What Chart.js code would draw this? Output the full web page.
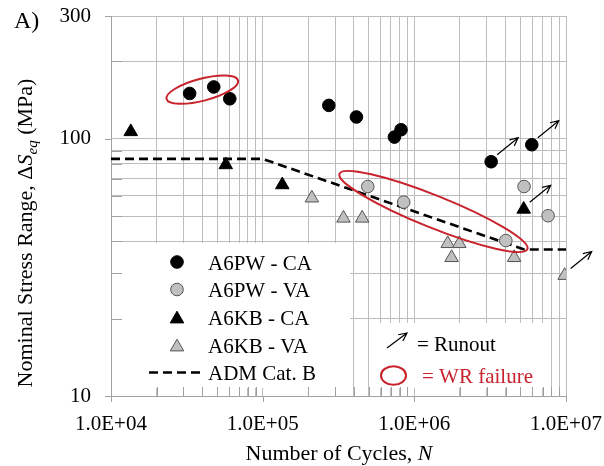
<!DOCTYPE html>
<html>
<head>
<meta charset="utf-8">
<script src="https://cdn.jsdelivr.net/npm/chart.js@4.4.1/dist/chart.umd.min.js"></script>
<style>
    html, body { margin: 0; padding: 0; background: #fff; }
    #wrap { width: 604px; height: 466px; }
</style>
</head>
<body>
<div id="wrap"><canvas id="snChart" width="604" height="466"></canvas></div>
<script>
// Number of cycles N and stress range (MPa)
const pwCaN = [33000, 47600, 60700, 273000, 415000, 739000, 817000, 3210000, 5950000];
const pwCaS = [150, 159, 143, 134.8, 121.5, 101.5, 108.4, 81.4, 94.8];

const pwVaN = [493000, 851000, 4010000, 5290000, 7620000];
const pwVaS = [65.2, 56.7, 40.2, 65.2, 50.2];

const kbCaN = [13500, 57100, 134700, 5260000];
const kbCaS = [106.5, 79.2, 66.2, 53.2];

const kbVaN = [211000, 341000, 453000, 1660000, 1980000, 1760000, 4550000, 9800000];
const kbVaS = [58.8, 49.1, 49.1, 39.1, 39.1, 34.5, 34.5, 29.4];

// ADM Cat. B design curve
const admN = [10000, 100000, 5300000, 10000000];
const admS = [83.5, 83.5, 37.1, 37.1];

// runout specimens (arrows)
const runoutN = [3210000, 5950000, 5260000, 9800000];
const runoutS = [81.4, 94.8, 53.2, 29.4];

// weld root failures (ellipse tips)
const wrTipA = [[23250, 142.7], [321000, 73.1]];
const wrTipB = [[68800, 168.6], [5565000, 37.2]];
const wrHalfWidth = [11, 16];

// axis ticks
const xMajor = [1e4, 1e5, 1e6, 1e7];
const xMajorLabels = ["1.0E+04", "1.0E+05", "1.0E+06", "1.0E+07"];
const yMajor = [10, 100, 300];
const yMajorLabels = ["10", "100", "300"];
const yGrid = [10, 20, 30, 40, 50, 60, 70, 80, 90, 100, 200, 300];

const seriesLabels = ["A6PW - CA", "A6PW - VA", "A6KB - CA", "A6KB - VA", "ADM Cat. B"];

const FONT = "'Liberation Serif', 'Times New Roman', serif";
const RED = "#c8232c";
const GRID = "#bdbdbd";
const AXIS = "#a0a0a0";
const GRAYFILL = "#c0c0c0";
const GRAYLINE = "#555555";

let xGrid = [];
xMajor.forEach((d, i) => {
    if (i === xMajor.length - 1) { xGrid.push(d); return; }
    for (let k = 1; k <= 9; k++) xGrid.push(d * k);
});

function toPoints(ns, ss) {
    return ns.map((n, i) => ({ x: n, y: ss[i] }));
}

function drawTriangle(ctx, x, y, r) {
    ctx.beginPath();
    for (let i = 0; i < 3; i++) {
        let a = i * 2 * Math.PI / 3;
        let px = x + Math.sin(a) * r, py = y - Math.cos(a) * r;
        if (i === 0) ctx.moveTo(px, py); else ctx.lineTo(px, py);
    }
    ctx.closePath();
}

function drawArrow(ctx, x1, y1, x2, y2) {
    let ang = Math.atan2(y2 - y1, x2 - x1);
    let h = 9;
    ctx.beginPath();
    ctx.moveTo(x1, y1);
    ctx.lineTo(x2, y2);
    ctx.moveTo(x2 - h * Math.cos(ang - 0.45), y2 - h * Math.sin(ang - 0.45));
    ctx.lineTo(x2, y2);
    ctx.lineTo(x2 - h * Math.cos(ang + 0.45), y2 - h * Math.sin(ang + 0.45));
    ctx.stroke();
}

// white legend boxes, inner ticks and legend contents
const legendPlugin = {
    id: "legendBoxes",
    beforeDatasetsDraw(chart) {
        const ctx = chart.ctx;
        const xs = chart.scales.x, ys = chart.scales.y;
        const area = chart.chartArea;
        ctx.save();
        ctx.fillStyle = "#fff";
        ctx.fillRect(112, 243, 238, 145);
        ctx.fillRect(370, 323, 177, 65);

        // tick marks
        ctx.strokeStyle = AXIS;
        ctx.lineWidth = 1;
        ctx.beginPath();
        xGrid.forEach((v) => {
            let x = Math.round(xs.getPixelForValue(v)) + 0.5;
            if (xMajor.indexOf(v) >= 0) {
                ctx.moveTo(x, area.bottom); ctx.lineTo(x, area.bottom + 6);
            } else {
                ctx.moveTo(x, area.bottom); ctx.lineTo(x, area.bottom - 9);
            }
        });
        yGrid.forEach((v) => {
            let y = Math.round(ys.getPixelForValue(v)) + 0.5;
            if (yMajor.indexOf(v) >= 0) {
                ctx.moveTo(area.left - 6, y); ctx.lineTo(area.left, y);
            } else {
                ctx.moveTo(area.left, y); ctx.lineTo(area.left + 11, y);
            }
        });
        ctx.stroke();

        // series legend
        ctx.font = "21px " + FONT;
        ctx.textBaseline = "alphabetic";
        ctx.textAlign = "left";
        const rows = [262, 289.5, 317, 345, 372.5];
        ctx.lineWidth = 1;
        ctx.fillStyle = "#000"; ctx.strokeStyle = "#000";
        ctx.beginPath(); ctx.arc(177, rows[0], 6.3, 0, 2 * Math.PI); ctx.fill(); ctx.stroke();
        ctx.fillStyle = GRAYFILL; ctx.strokeStyle = GRAYLINE;
        ctx.beginPath(); ctx.arc(177, rows[1], 6.3, 0, 2 * Math.PI); ctx.fill(); ctx.stroke();
        ctx.fillStyle = "#000"; ctx.strokeStyle = "#000";
        drawTriangle(ctx, 177, rows[2] + 2, 7.8); ctx.fill(); ctx.stroke();
        ctx.fillStyle = GRAYFILL; ctx.strokeStyle = GRAYLINE;
        drawTriangle(ctx, 177, rows[3] + 2, 7.8); ctx.fill(); ctx.stroke();
        ctx.strokeStyle = "#000"; ctx.lineWidth = 2.6; ctx.setLineDash([9, 5]);
        ctx.beginPath(); ctx.moveTo(149, rows[4]); ctx.lineTo(204, rows[4]); ctx.stroke();
        ctx.setLineDash([]);
        ctx.fillStyle = "#000";
        seriesLabels.forEach((t, i) => ctx.fillText(t, 208, rows[i] + 7.5));

        // runout / WR failure key
        ctx.lineWidth = 1.2;
        drawArrow(ctx, 387, 348, 407, 333);
        ctx.fillText("= Runout", 417, 351);
        ctx.strokeStyle = RED; ctx.lineWidth = 2;
        ctx.beginPath(); ctx.ellipse(393.5, 375.5, 12.5, 9.3, 0, 0, 2 * Math.PI); ctx.stroke();
        ctx.fillStyle = RED;
        ctx.fillText("= WR failure", 422, 383);
        ctx.restore();
    },
    afterDatasetsDraw(chart) {
        const ctx = chart.ctx;
        const xs = chart.scales.x, ys = chart.scales.y;
        ctx.save();
        // runout arrows
        ctx.strokeStyle = "#000";
        ctx.lineWidth = 1.2;
        runoutN.forEach((n, i) => {
            let x = xs.getPixelForValue(n), y = ys.getPixelForValue(runoutS[i]);
            drawArrow(ctx, x + 6, y - 7, x + 27, y - 24);
        });
        // WR failure ellipses
        ctx.strokeStyle = RED;
        ctx.lineWidth = 2;
        wrTipA.forEach((a, i) => {
            let b = wrTipB[i];
            let x1 = xs.getPixelForValue(a[0]), y1 = ys.getPixelForValue(a[1]);
            let x2 = xs.getPixelForValue(b[0]), y2 = ys.getPixelForValue(b[1]);
            let r = Math.hypot(x2 - x1, y2 - y1) / 2;
            ctx.beginPath();
            ctx.ellipse((x1 + x2) / 2, (y1 + y2) / 2, r, wrHalfWidth[i], Math.atan2(y2 - y1, x2 - x1), 0, 2 * Math.PI);
            ctx.stroke();
        });
        ctx.restore();
    },
    afterDraw(chart) {
        const ctx = chart.ctx;
        ctx.save();
        ctx.fillStyle = "#000";
        ctx.textBaseline = "alphabetic";
        ctx.font = "24px " + FONT;
        ctx.fillText("A)", 14, 28);

        // x axis title
        let reg = "22px " + FONT, ita = "italic 22px " + FONT;
        ctx.font = reg;
        let t1 = "Number of Cycles, ";
        let w1 = ctx.measureText(t1).width;
        ctx.font = ita;
        let w2 = ctx.measureText("N").width;
        let x0 = 339 - (w1 + w2) / 2;
        ctx.font = reg; ctx.fillText(t1, x0, 460);
        ctx.font = ita; ctx.fillText("N", x0 + w1, 460);

        // y axis title
        let parts = [
            ["Nominal Stress Range, \u0394", reg, 0],
            ["S", ita, 0],
            ["eq", "italic 15px " + FONT, 5],
            [" (MPa)", reg, 0]
        ];
        let total = 0;
        parts.forEach((p) => { ctx.font = p[1]; total += ctx.measureText(p[0]).width; });
        ctx.translate(32, 233);
        ctx.rotate(-Math.PI / 2);
        let cx = -total / 2;
        parts.forEach((p) => {
            ctx.font = p[1];
            ctx.fillText(p[0], cx, p[2]);
            cx += ctx.measureText(p[0]).width;
        });
        ctx.restore();
    }
};

let ctx = document.getElementById("snChart").getContext("2d");
let snChart = new Chart(ctx, {
    type: "scatter",
    data: {
        datasets: [
            {
                label: seriesLabels[0],
                data: toPoints(pwCaN, pwCaS),
                pointStyle: "circle",
                pointRadius: 6.3,
                backgroundColor: "#000",
                borderColor: "#000",
                borderWidth: 1
            },
            {
                label: seriesLabels[1],
                data: toPoints(pwVaN, pwVaS),
                pointStyle: "circle",
                pointRadius: 6.3,
                backgroundColor: GRAYFILL,
                borderColor: GRAYLINE,
                borderWidth: 1
            },
            {
                label: seriesLabels[2],
                data: toPoints(kbCaN, kbCaS),
                pointStyle: "triangle",
                pointRadius: 7.8,
                backgroundColor: "#000",
                borderColor: "#000",
                borderWidth: 1
            },
            {
                label: seriesLabels[3],
                data: toPoints(kbVaN, kbVaS),
                pointStyle: "triangle",
                pointRadius: 7.8,
                backgroundColor: GRAYFILL,
                borderColor: GRAYLINE,
                borderWidth: 1
            },
            {
                label: seriesLabels[4],
                data: toPoints(admN, admS),
                showLine: true,
                pointRadius: 0,
                borderColor: "#000",
                borderWidth: 2.6,
                borderDash: [9, 5],
                fill: false,
                order: 10
            }
        ]
    },
    options: {
        responsive: false,
        animation: false,
        events: [],
        layout: { padding: { left: 0, right: 38, top: 16, bottom: 0 } },
        plugins: {
            legend: { display: false },
            tooltip: { enabled: false }
        },
        scales: {
            x: {
                type: "logarithmic",
                min: 1e4,
                max: 1e7,
                afterBuildTicks: (s) => { s.ticks = xGrid.map((v) => ({ value: v })); },
                afterFit: (s) => { s.height = 70; s.paddingLeft = 0; s.paddingRight = 0; },
                grid: { color: GRID, lineWidth: 1, drawTicks: false },
                border: { color: AXIS, width: 1 },
                ticks: {
                    autoSkip: false,
                    maxRotation: 0,
                    padding: 16,
                    color: "#000",
                    font: { family: FONT, size: 21 },
                    callback: (v) => {
                        let i = xMajor.indexOf(v);
                        return i >= 0 ? xMajorLabels[i] : "";
                    }
                }
            },
            y: {
                type: "logarithmic",
                min: 10,
                max: 300,
                afterBuildTicks: (s) => { s.ticks = yGrid.map((v) => ({ value: v })); },
                afterFit: (s) => { s.width = 111; s.paddingTop = 0; s.paddingBottom = 0; },
                grid: { color: GRID, lineWidth: 1, drawTicks: false },
                border: { color: AXIS, width: 1 },
                ticks: {
                    autoSkip: false,
                    padding: 20,
                    color: "#000",
                    font: { family: FONT, size: 21 },
                    callback: (v) => {
                        let i = yMajor.indexOf(v);
                        return i >= 0 ? yMajorLabels[i] : "";
                    }
                }
            }
        }
    },
    plugins: [legendPlugin]
});
</script>
</body>
</html>
